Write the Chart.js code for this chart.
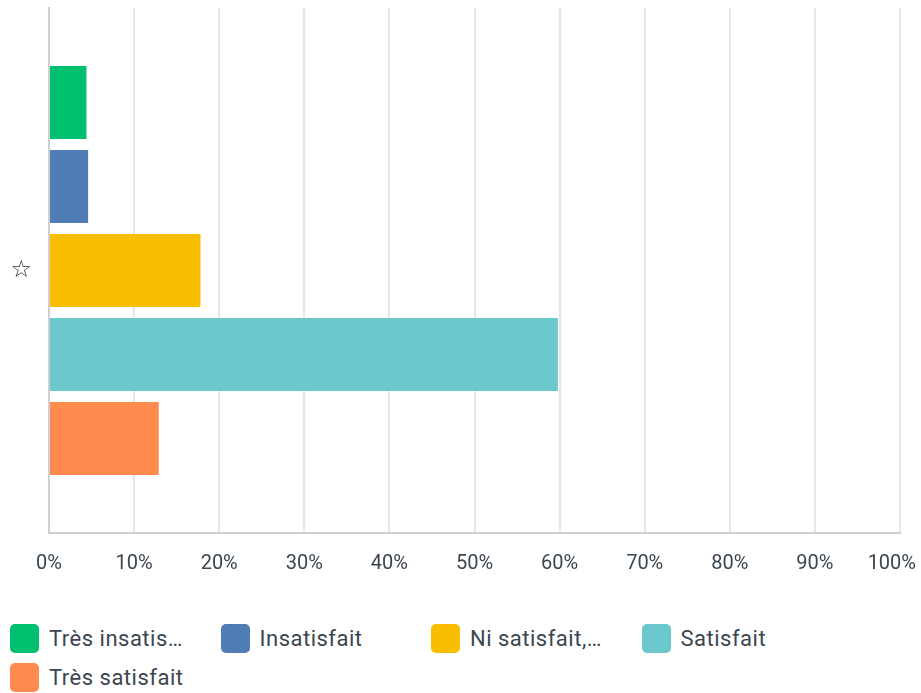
<!DOCTYPE html>
<html>
<head>
<meta charset="utf-8">
<script src="https://cdn.jsdelivr.net/npm/chart.js@4"></script>
<style>
  body { margin: 0; background: #fff; font-family: Roboto, sans-serif; }
  #wrap { position: relative; width: 921px; height: 600px; }
  #legend { display: flex; flex-wrap: wrap; padding-left: 10px; margin-top: 24px; }
  .item { width: 210.5px; height: 39px; display: flex; align-items: flex-start; }
  .box { width: 29px; height: 29px; border-radius: 5px; flex: none; }
  .txt { margin-left: 10px; font-size: 22px; color: #3b4650; line-height: 30px; letter-spacing: 0.5px;
         max-width: 136px; white-space: nowrap; overflow: hidden; text-overflow: ellipsis; }
</style>
</head>
<body>
<div id="wrap"><canvas id="chart"></canvas></div>
<div id="legend"></div>
<script>
const categories = ['☆'];
const seriesNames = ['Très insatisfait', 'Insatisfait', 'Ni satisfait, ni insatisfait', 'Satisfait', 'Très satisfait'];
const seriesValues = [4.4, 4.6, 17.8, 59.8, 12.9];
const seriesColors = ['#00bf6f', '#507cb6', '#f9be00', '#6bc8cd', '#ff8b4f'];
const xTicks = [0, 10, 20, 30, 40, 50, 60, 70, 80, 90, 100];

// draws the x tick labels, keeping the last one inside the canvas
const tickLabels = {
  id: 'tickLabels',
  afterDraw(chart) {
    const { ctx, scales: { x }, chartArea } = chart;
    ctx.save();
    ctx.font = '20px Roboto, sans-serif';
    ctx.fillStyle = '#3b4650';
    ctx.textBaseline = 'middle';
    ctx.textAlign = 'center';
    xTicks.forEach(v => {
      const text = v + '%';
      const w = ctx.measureText(text).width;
      let px = x.getPixelForValue(v);
      px = Math.min(px, chart.width - 5 - w / 2);
      ctx.fillText(text, px, chartArea.bottom + 31);
    });
    ctx.restore();
  }
};

const datasets = seriesNames.map((name, i) => ({
  label: name,
  data: [seriesValues[i]],
  backgroundColor: seriesColors[i],
  barPercentage: 0.87,
  categoryPercentage: 0.8,
}));

new Chart(document.getElementById('chart'), {
  type: 'bar',
  data: { labels: categories, datasets },
  options: {
    indexAxis: 'y',
    responsive: true,
    maintainAspectRatio: false,
    animation: false,
    layout: { padding: { top: 8, right: 21, bottom: 67, left: 0 } },
    plugins: { legend: { display: false }, tooltip: { enabled: false } },
    scales: {
      x: {
        min: 0,
        max: 100,
        ticks: { stepSize: 10, display: false },
        grid: { color: '#e6e6e6', lineWidth: 2, drawTicks: false },
        border: { display: true, color: '#d0d0d0', width: 2 },
      },
      y: {
        afterFit(scale) {
          scale.width = 49;
          scale.paddingTop = 0;
          scale.paddingBottom = 0;
        },
        ticks: { color: '#2a333c', font: { size: 24, family: 'DejaVu Sans', weight: 'bold' }, padding: 17 },
        grid: { display: false, drawTicks: false },
        border: { display: true, color: '#d0d0d0', width: 2 },
      },
    },
  },
  plugins: [tickLabels],
});

// legend built from the same series arrays
const legend = document.getElementById('legend');
seriesNames.forEach((name, i) => {
  const item = document.createElement('div');
  item.className = 'item';
  const box = document.createElement('div');
  box.className = 'box';
  box.style.background = seriesColors[i];
  const txt = document.createElement('div');
  txt.className = 'txt';
  txt.textContent = name;
  item.appendChild(box);
  item.appendChild(txt);
  legend.appendChild(item);
});
</script>
</body>
</html>
